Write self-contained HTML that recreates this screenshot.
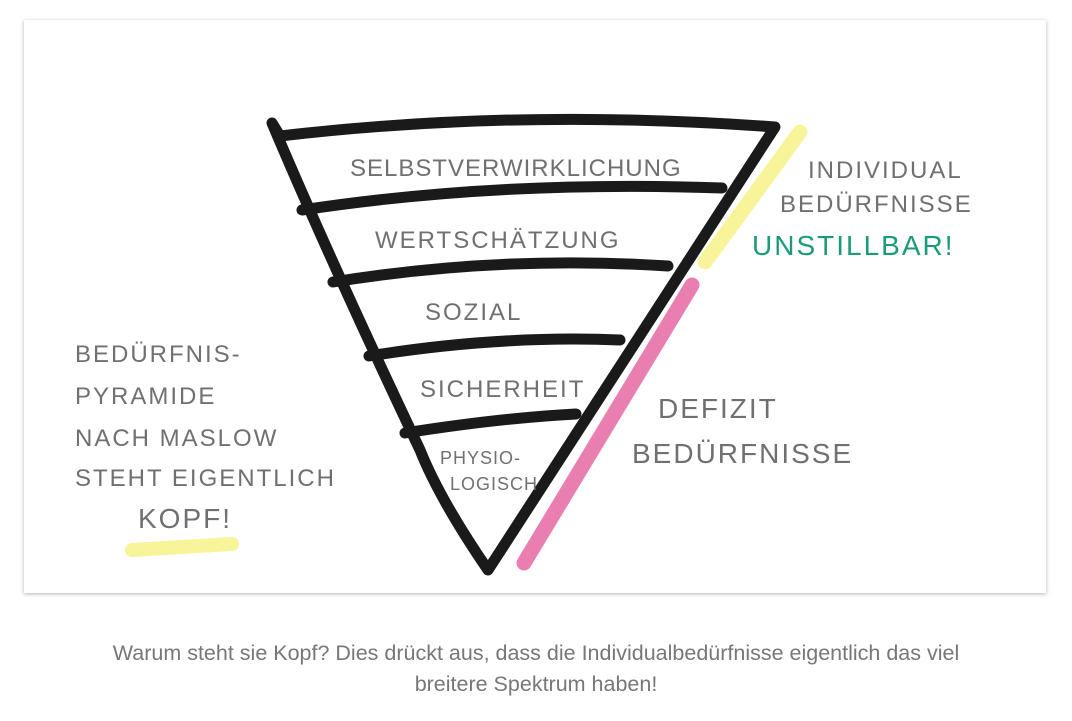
<!DOCTYPE html>
<html><head><meta charset="utf-8"><style>
body{margin:0;background:#fff;width:1072px;height:721px;overflow:hidden;font-family:"Liberation Sans",sans-serif}
.card{position:absolute;left:24px;top:20px;width:1022px;height:573px;background:#fff;box-shadow:0 1px 4px rgba(0,0,0,.3)}
.cap{position:absolute;left:0;width:1072px;top:638px;text-align:center;color:#777;font-size:21.5px;line-height:31px}
svg{position:absolute;left:0;top:0}
text{font-family:"Liberation Sans",sans-serif;fill:#707070;font-size:24px;letter-spacing:2px}
</style></head><body>
<div class="card"></div>
<svg width="1072" height="600" viewBox="0 0 1072 600">
<g fill="none" stroke-linecap="round" stroke-linejoin="round">
<path d="M800 132 L705 262" stroke="#f8f49a" stroke-width="15"/>
<path d="M692 285 L524 563" stroke="#e97fb1" stroke-width="15"/>
<path d="M132 550 L232 544" stroke="#f8f49a" stroke-width="14"/>
<g stroke="#1a1a1a" stroke-width="11">
<path d="M272 123 L280 136 Q520 108 775 127 L488 570 Q440 500 420 450 Q330 260 272 123"/>
<path d="M302 210 Q500 180 722 188"/>
<path d="M333 282 Q500 255 668 266"/>
<path d="M369 356 Q500 335 620 340"/>
<path d="M405 433 Q500 418 576 414"/>
</g></g>
<text x="350" y="176" style="letter-spacing:1px">SELBSTVERWIRKLICHUNG</text>
<text x="375" y="248">WERTSCHÄTZUNG</text>
<text x="425" y="320">SOZIAL</text>
<text x="420" y="397">SICHERHEIT</text>
<text x="440" y="464" style="font-size:18px;letter-spacing:1px">PHYSIO-</text>
<text x="450" y="490" style="font-size:18px;letter-spacing:1px">LOGISCH</text>
<text x="808" y="178">INDIVIDUAL</text>
<text x="780" y="212">BEDÜRFNISSE</text>
<text x="752" y="255" style="fill:#1a9b7a;font-size:28px">UNSTILLBAR!</text>
<text x="658" y="418" style="font-size:28px">DEFIZIT</text>
<text x="632" y="463" style="font-size:28px">BEDÜRFNISSE</text>
<text x="75" y="362">BEDÜRFNIS-</text>
<text x="75" y="404">PYRAMIDE</text>
<text x="75" y="446">NACH MASLOW</text>
<text x="75" y="486">STEHT EIGENTLICH</text>
<text x="138" y="528" style="font-size:28px">KOPF!</text>
</svg>
<div class="cap">Warum steht sie Kopf? Dies drückt aus, dass die Individualbedürfnisse eigentlich das viel<br>breitere Spektrum haben!</div>
</body></html>
